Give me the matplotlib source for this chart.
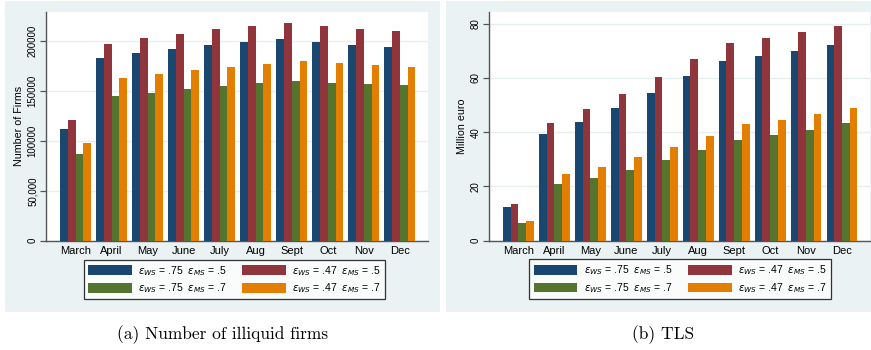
import matplotlib
matplotlib.use("Agg")
import matplotlib.pyplot as plt
from matplotlib.patches import Rectangle, Patch
import numpy as np

months = ["March", "April", "May", "June", "July", "Aug", "Sept", "Oct", "Nov", "Dec"]

series_labels = [
    r"$\varepsilon_{WS}$ = .75  $\varepsilon_{MS}$ = .5",
    r"$\varepsilon_{WS}$ = .47  $\varepsilon_{MS}$ = .5",
    r"$\varepsilon_{WS}$ = .75  $\varepsilon_{MS}$ = .7",
    r"$\varepsilon_{WS}$ = .47  $\varepsilon_{MS}$ = .7",
]
colors = ["#1a476f", "#90353b", "#55752f", "#e37e00"]

# Panel (a): number of illiquid firms
firms_ws75_ms5 = [112000, 183300, 188600, 192600, 196300, 199700, 202300, 199300, 196700, 194700]
firms_ws47_ms5 = [121500, 197700, 203300, 207700, 212400, 215700, 218400, 215400, 212400, 210400]
firms_ws75_ms7 = [87000, 145200, 148200, 152200, 155200, 158200, 160200, 158200, 157200, 155900]
firms_ws47_ms7 = [98000, 163200, 167600, 171200, 174300, 177300, 180300, 178300, 176300, 174300]
firms_ticks = [0, 50000, 100000, 150000, 200000]
firms_ticklabels = ["0", "50,000", "100000", "150000", "200000"]

# Panel (b): TLS, million euro
tls_ws75_ms5 = [12.4, 39.3, 43.7, 48.9, 54.4, 60.7, 66.2, 68.1, 69.9, 72.1]
tls_ws47_ms5 = [13.5, 43.4, 48.5, 54.1, 60.3, 67.0, 73.0, 74.7, 76.9, 79.1]
tls_ws75_ms7 = [6.5, 21.0, 23.1, 26.1, 29.7, 33.4, 37.1, 39.0, 40.8, 43.4]
tls_ws47_ms7 = [7.25, 24.7, 27.2, 30.8, 34.5, 38.6, 43.0, 44.5, 46.7, 48.9]
tls_ticks = [0, 20, 40, 60, 80]
tls_ticklabels = ["0", "20", "40", "60", "80"]

W, H = 871, 350
fig = plt.figure(figsize=(W / 100, H / 100), dpi=100)
fig.patch.set_facecolor("white")

plt.rcParams["mathtext.fontset"] = "dejavusans"

BG = "#eaf2f3"

def px_rect(x0, y0, x1, y1):
    return [x0 / W, 1 - y1 / H, (x1 - x0) / W, (y1 - y0) / H]

# panel backgrounds
for (x0, y0, x1, y1) in [(5, 1, 440, 312), (446, 1, 871, 312)]:
    r = px_rect(x0, y0, x1, y1)
    fig.add_artist(Rectangle((r[0], r[1]), r[2], r[3], transform=fig.transFigure,
                             facecolor=BG, edgecolor="none", zorder=0))

def panel(axrect, data, ylim, ticks, ticklabels, ylabel, legrect, caption, capx):
    ax = fig.add_axes(px_rect(*axrect))
    ax.set_facecolor("white")
    x = np.arange(len(months))
    w = 0.215
    for k, vals in enumerate(data):
        ax.bar(x + (k - 1.5) * w, vals, width=w, color=colors[k], linewidth=0, zorder=3)
    ax.set_xlim(-0.82, 9.78)
    ax.set_ylim(*ylim)
    ax.set_xticks(x)
    ax.set_xticklabels(months, fontsize=8, family="Liberation Sans")
    ax.tick_params(axis="x", length=0, pad=4)
    ax.set_yticks(ticks)
    ax.set_yticklabels(ticklabels, rotation=90, va="center", fontsize=7,
                       family="Liberation Sans")
    ax.tick_params(axis="y", length=4, width=0.9, color="#555555", pad=2)
    for s in ["top", "right"]:
        ax.spines[s].set_visible(False)
    for s in ["left", "bottom"]:
        ax.spines[s].set_color("#555555")
        ax.spines[s].set_linewidth(1.0)
    ax.yaxis.grid(True, color="#e6eef0", linewidth=1.0, zorder=0)
    ax.set_axisbelow(True)
    ax.set_ylabel(ylabel, fontsize=7.7, family="Liberation Sans", labelpad=3)

    # legend
    lr = px_rect(*legrect)
    handles = [Patch(facecolor=colors[i], edgecolor="none") for i in [0, 2, 1, 3]]
    labels = [series_labels[i] for i in [0, 2, 1, 3]]
    leg = fig.legend(handles, labels, ncol=2, loc="center",
                     bbox_to_anchor=(lr[0] + lr[2] / 2, lr[1] + lr[3] / 2),
                     bbox_transform=fig.transFigure,
                     fontsize=7.5, frameon=True, fancybox=False,
                     handlelength=4.2, handleheight=1.05, handletextpad=0.6,
                     columnspacing=1.5, labelspacing=0.35, borderpad=0.4,
                     borderaxespad=0)
    leg.get_frame().set_edgecolor("black")
    leg.get_frame().set_linewidth(0.9)
    leg.get_frame().set_facecolor("white")
    for t in leg.get_texts():
        t.set_family("Liberation Sans")

    fig.text(capx / W, 1 - 335 / H, caption, ha="center", va="center",
             fontsize=12.5, family="cmr10")
    return ax

panel((46, 12, 428, 240.7),
      [firms_ws75_ms5, firms_ws47_ms5, firms_ws75_ms7, firms_ws47_ms7],
      (0, 229400), firms_ticks, firms_ticklabels, "Number of Firms",
      (90, 261.7, 378.3, 297.3), "(a) Number of illiquid firms", 222.5)

panel((489, 12, 870, 240.7),
      [tls_ws75_ms5, tls_ws47_ms5, tls_ws75_ms7, tls_ws47_ms7],
      (0, 84.3), tls_ticks, tls_ticklabels, "Million euro",
      (531.7, 261.7, 828.3, 296.7), "(b) TLS", 663)

fig.savefig("out.png", dpi=100)
